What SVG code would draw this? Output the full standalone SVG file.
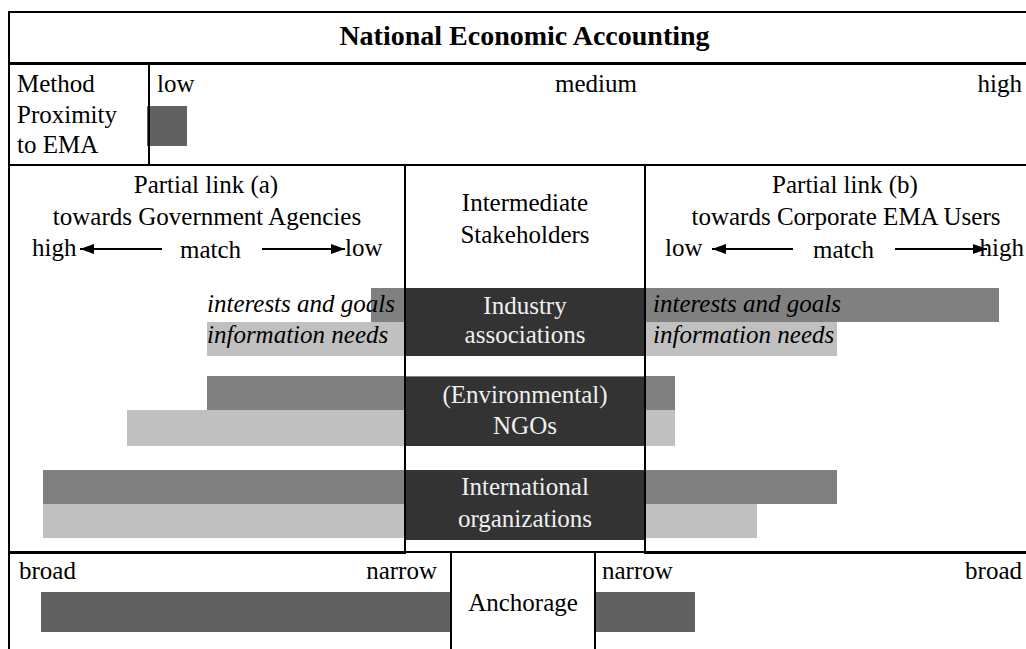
<svg xmlns="http://www.w3.org/2000/svg" width="1026" height="649" viewBox="0 0 1026 649">
<style>
text{font-family:"Liberation Serif","Times New Roman",serif;font-size:25px;fill:#000}
.b{font-weight:bold;font-size:28px}
.i{font-style:italic}
.w{fill:#efefef}
.m{text-anchor:middle}
.e{text-anchor:end}
.ln{stroke:#000;stroke-width:2;fill:none}
.th{stroke:#000;stroke-width:3;fill:none}
.dk{fill:#333333}
.g1{fill:#808080}
.g2{fill:#c0c0c0}
.g3{fill:#616161}
.ar{stroke:#000;stroke-width:2;fill:none}
</style>
<defs>
<marker id="ah" viewBox="0 0 14 10" refX="14" refY="5" markerWidth="14" markerHeight="10" markerUnits="userSpaceOnUse" orient="auto">
<path d="M0,0 L14,5 L0,10 Z" fill="#000"/>
</marker>
</defs>
<rect width="1026" height="649" fill="#fff"/>

<!-- bars behind stakeholder boxes -->
<g id="bars">
<rect class="g1" x="371" y="288" width="628" height="34"/>
<rect class="g2" x="207" y="322" width="630" height="34"/>
<rect class="g1" x="207" y="376" width="468" height="34"/>
<rect class="g2" x="127" y="410" width="548" height="36"/>
<rect class="g1" x="43" y="470" width="794" height="34"/>
<rect class="g2" x="43" y="504" width="714" height="34"/>
</g>

<g id="title">
<text class="b m" x="524.5" y="45">National Economic Accounting</text>
</g>

<g id="method-proximity">
<text x="17" y="92">Method</text>
<text x="17" y="122.5">Proximity</text>
<text x="17" y="153">to EMA</text>
<text x="157" y="92">low</text>
<text x="555" y="92">medium</text>
<text class="e" x="1022" y="92">high</text>
<rect class="g3" x="147" y="106" width="40" height="40"/>
</g>

<g id="partial-link-a">
<text class="m" x="206" y="193">Partial link (a)</text>
<text class="m" x="207" y="225">towards Government Agencies</text>
<text x="32" y="256">high</text>
<text x="180" y="257.5">match</text>
<text x="345" y="256">low</text>
<text class="i" x="207" y="312">interests and goals</text>
<text class="i" x="207" y="343">information needs</text>
</g>

<g id="partial-link-b">
<text class="m" x="845" y="193">Partial link (b)</text>
<text class="m" x="846" y="225">towards Corporate EMA Users</text>
<text x="665" y="256">low</text>
<text x="813" y="257.5">match</text>
<text class="e" x="1024" y="256">high</text>
<text class="i" x="653" y="312">interests and goals</text>
<text class="i" x="653" y="343">information needs</text>
</g>

<g id="intermediate-stakeholders">
<text class="m" x="525" y="211">Intermediate</text>
<text class="m" x="525" y="243">Stakeholders</text>
</g>

<g id="industry-associations">
<rect class="dk" x="405" y="288" width="240" height="68"/>
<text class="m w" x="525" y="314">Industry</text>
<text class="m w" x="525" y="343">associations</text>
</g>

<g id="ngos">
<rect class="dk" x="405" y="377" width="240" height="69"/>
<text class="m w" x="525" y="403">(Environmental)</text>
<text class="m w" x="525" y="434">NGOs</text>
</g>

<g id="international-organizations">
<rect class="dk" x="405" y="470" width="240" height="70"/>
<text class="m w" x="525" y="495">International</text>
<text class="m w" x="525" y="527">organizations</text>
</g>

<g id="anchorage">
<text x="19" y="579">broad</text>
<text class="e" x="437" y="579">narrow</text>
<rect class="g3" x="41" y="592" width="410" height="40"/>
<text class="m" x="523" y="611">Anchorage</text>
<text x="602" y="579">narrow</text>
<text class="e" x="1022" y="579">broad</text>
<rect class="g3" x="595" y="592" width="100" height="40"/>
</g>

<g id="grid">
<line class="ln" x1="8" y1="12" x2="1026" y2="12"/>
<line class="th" x1="8" y1="63.5" x2="1026" y2="63.5"/>
<line class="ln" x1="9" y1="11" x2="9" y2="649"/>
<line class="ln" x1="149" y1="63" x2="149" y2="165"/>
<line class="ln" x1="8" y1="165" x2="1026" y2="165"/>
<line class="ln" x1="405" y1="165" x2="405" y2="553"/>
<line class="ln" x1="645" y1="165" x2="645" y2="553"/>
<line class="ln" x1="405" y1="552" x2="645" y2="552"/>
<line class="th" x1="8" y1="552.5" x2="406" y2="552.5"/>
<line class="th" x1="644" y1="552.5" x2="1026" y2="552.5"/>
<line class="ln" x1="451" y1="552" x2="451" y2="649"/>
<line class="ln" x1="595" y1="552" x2="595" y2="649"/>
</g>

<g id="connectors">
<line class="ar" x1="162" y1="249" x2="80" y2="249" marker-end="url(#ah)"/>
<line class="ar" x1="262" y1="249" x2="345" y2="249" marker-end="url(#ah)"/>
<line class="ar" x1="793" y1="249" x2="712" y2="249" marker-end="url(#ah)"/>
<line class="ar" x1="895" y1="249" x2="987" y2="249" marker-end="url(#ah)"/>
</g>
</svg>
